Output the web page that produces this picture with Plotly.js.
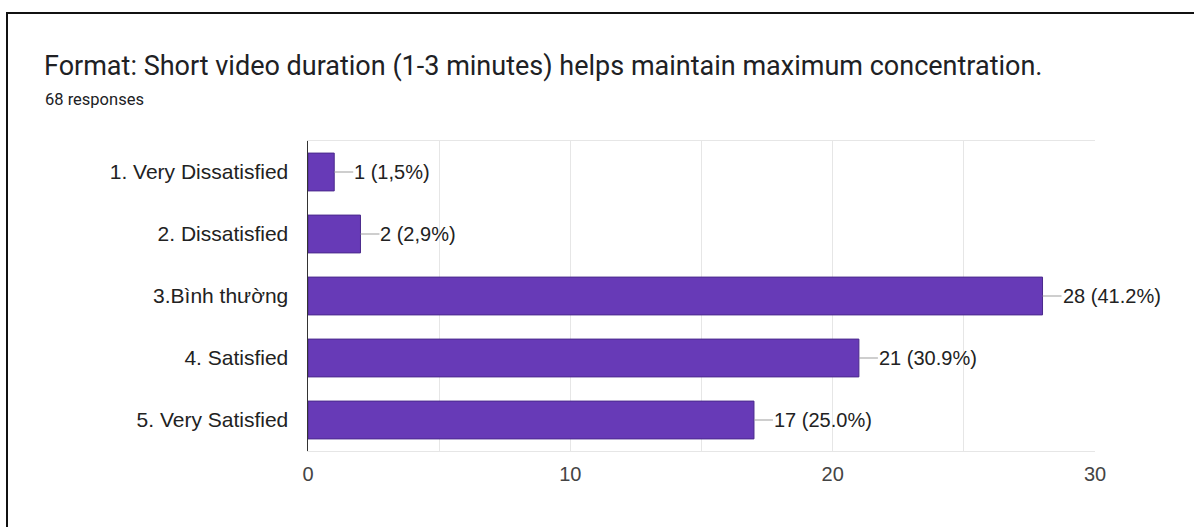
<!DOCTYPE html>
<html>
<head>
<meta charset="utf-8">
<script src="https://cdn.plot.ly/plotly-3.0.1.min.js"></script>
<style>
  html, body { margin: 0; padding: 0; background: #fff; }
  #wrap { position: relative; width: 1194px; height: 527px; overflow: hidden; }
  #frame { position: absolute; left: 6px; top: 12px; right: 0; bottom: -4px;
           border-top: 2px solid #111; border-left: 2px solid #111; }
  #chart { position: absolute; left: 0; top: 0; width: 1194px; height: 527px; }
</style>
</head>
<body>
<div id="wrap">
  <div id="frame"></div>
  <div id="chart"></div>
</div>
<script>
// Survey answers, in questionnaire order
const categories = [
  '1. Very Dissatisfied',
  '2. Dissatisfied',
  '3.Bình thường',
  '4. Satisfied',
  '5. Very Satisfied'
];
const counts = [1, 2, 28, 21, 17];
const percentLabels = ['1,5%', '2,9%', '41.2%', '30.9%', '25.0%'];
const xTickValues = [0, 10, 20, 30];
const totalResponses = 68;

const questionTitle = 'Format: Short video duration (1-3 minutes) helps maintain maximum concentration.';

const chartFont = 'Liberation Sans, Arial, sans-serif';
const purple = '#673AB7';

const trace = {
  type: 'bar',
  orientation: 'h',
  x: counts,
  y: categories,
  marker: { color: purple, line: { color: '#4b2a8c', width: 1 } },
  hoverinfo: 'none'
};

// Value labels with a short grey leader line from the bar end
const valueLabels = counts.map((v, i) => ({
  x: v,
  y: categories[i],
  xref: 'x',
  yref: 'y',
  text: v + ' (' + percentLabels[i] + ')',
  showarrow: true,
  arrowhead: 0,
  arrowwidth: 1.2,
  arrowcolor: '#9e9e9e',
  ax: 19,
  ay: 0,
  xanchor: 'left',
  yanchor: 'middle',
  borderpad: 0,
  font: { family: chartFont, size: 20, color: '#222' }
}));

const layout = {
  width: 1194,
  height: 527,
  margin: { l: 308, r: 99, t: 141, b: 76 },
  paper_bgcolor: 'rgba(0,0,0,0)',
  plot_bgcolor: '#fff',
  showlegend: false,
  bargap: 0.39,
  title: {
    text: questionTitle,
    font: { family: 'Roboto, sans-serif', size: 27, color: '#202124' },
    xref: 'container', x: 44 / 1194, xanchor: 'left',
    yref: 'container', y: 1 - 66 / 527, yanchor: 'middle'
  },
  xaxis: {
    range: [0, 30],
    tickvals: xTickValues,
    ticktext: xTickValues.map(String),
    showgrid: true,
    gridcolor: '#e6e6e6',
    gridwidth: 1,
    minor: { dtick: 5, showgrid: true, gridcolor: '#e6e6e6', gridwidth: 1 },
    zeroline: false,
    showline: true,
    linecolor: '#e6e6e6',
    mirror: true,
    ticks: '',
    ticklabelstandoff: 5,
    tickfont: { family: chartFont, size: 20, color: '#444' },
    fixedrange: true
  },
  yaxis: {
    autorange: 'reversed',
    showgrid: false,
    zeroline: false,
    showline: true,
    linecolor: '#333',
    linewidth: 1.5,
    ticks: '',
    ticklabelstandoff: 14,
    tickfont: { family: chartFont, size: 21, color: '#222' },
    fixedrange: true
  },
  annotations: [
    {
      text: totalResponses + ' responses',
      xref: 'paper', yref: 'paper',
      x: (44 - 308) / (1095 - 308), xanchor: 'left',
      y: 1 + (141 - 99) / 310, yanchor: 'middle',
      showarrow: false,
      borderpad: 0,
      font: { family: 'Roboto, sans-serif', size: 16.5, color: '#202124' }
    },
    ...valueLabels
  ]
};

Plotly.newPlot('chart', [trace], layout, { displayModeBar: false, staticPlot: true });
</script>
</body>
</html>
